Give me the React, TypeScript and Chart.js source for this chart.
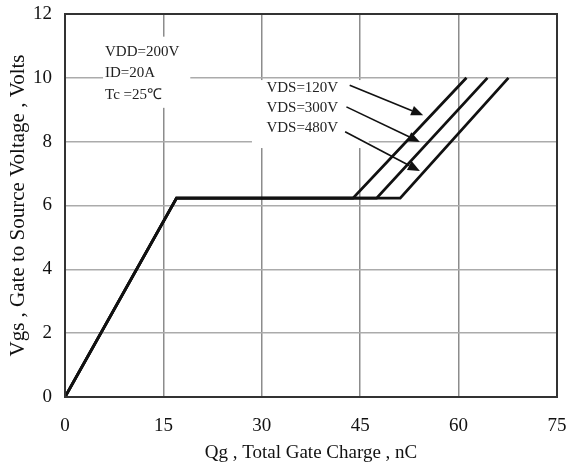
import { useEffect, useRef } from "react";
import { Chart, registerables } from "chart.js";

Chart.register(...registerables);

// ---- data ----
const qgVds120 = [0, 17.0, 43.9, 61.2];
const qgVds300 = [0, 17.0, 47.5, 64.4];
const qgVds480 = [0, 17.0, 51.1, 67.6];
const vgsCurve = [0, 6.23, 6.23, 10.0];

const xTicks = [0, 15, 30, 45, 60, 75];
const yTicks = [0, 2, 4, 6, 8, 10, 12];

const conditionLabels = ["VDD=200V", "ID=20A", "Tc =25℃"];
const conditionQg = [6.1, 6.1, 6.1];
const conditionVgs = [10.82, 10.16, 9.47];
const conditionBox = [5.8, 19.1, 9.06, 11.29];

const vdsLabels = ["VDS=120V", "VDS=300V", "VDS=480V"];
const vdsLabelQg = [30.7, 30.7, 30.7];
const vdsLabelVgs = [9.68, 9.05, 8.43];
const vdsBox = [28.5, 46.3, 7.8, 9.93];

const arrowStartQg = [43.4, 42.9, 42.7];
const arrowStartVgs = [9.77, 9.09, 8.31];
const arrowEndQg = [54.6, 54.1, 54.1];
const arrowEndVgs = [8.83, 7.99, 7.08];

const FONT = '"Liberation Serif", "Times New Roman", serif';

const toPoints = (xs: number[], ys: number[]) => xs.map((v, i) => ({ x: v, y: ys[i] }));

const annotationPlugin = {
  id: "gateAnnotations",
  beforeDatasetsDraw(chart: any) {
    const { ctx, scales } = chart;
    const x = scales.x;
    const y = scales.y;
    ctx.save();
    ctx.fillStyle = "#ffffff";
    for (const b of [conditionBox, vdsBox]) {
      const l = x.getPixelForValue(b[0]);
      const r = x.getPixelForValue(b[1]);
      const t = y.getPixelForValue(b[3]);
      const bt = y.getPixelForValue(b[2]);
      ctx.fillRect(l, t, r - l, bt - t);
    }
    ctx.font = `15px ${FONT}`;
    ctx.fillStyle = "#222";
    ctx.textAlign = "left";
    ctx.textBaseline = "middle";
    conditionLabels.forEach((s, i) =>
      ctx.fillText(s, x.getPixelForValue(conditionQg[i]), y.getPixelForValue(conditionVgs[i]))
    );
    vdsLabels.forEach((s, i) =>
      ctx.fillText(s, x.getPixelForValue(vdsLabelQg[i]), y.getPixelForValue(vdsLabelVgs[i]))
    );
    ctx.restore();
  },
  afterDatasetsDraw(chart: any) {
    const { ctx, scales, chartArea } = chart;
    const x = scales.x;
    const y = scales.y;
    ctx.save();
    ctx.strokeStyle = "#111";
    ctx.fillStyle = "#111";
    ctx.lineWidth = 1.6;
    for (let i = 0; i < arrowStartQg.length; i++) {
      const x0 = x.getPixelForValue(arrowStartQg[i]);
      const y0 = y.getPixelForValue(arrowStartVgs[i]);
      const x1 = x.getPixelForValue(arrowEndQg[i]);
      const y1 = y.getPixelForValue(arrowEndVgs[i]);
      const ang = Math.atan2(y1 - y0, x1 - x0);
      const hl = 12;
      const hw = 5;
      const bx = x1 - hl * Math.cos(ang);
      const by = y1 - hl * Math.sin(ang);
      ctx.beginPath();
      ctx.moveTo(x0, y0);
      ctx.lineTo(bx, by);
      ctx.stroke();
      ctx.beginPath();
      ctx.moveTo(x1, y1);
      ctx.lineTo(bx + hw * Math.sin(ang), by - hw * Math.cos(ang));
      ctx.lineTo(bx - hw * Math.sin(ang), by + hw * Math.cos(ang));
      ctx.closePath();
      ctx.fill();
    }
    ctx.strokeStyle = "#333";
    ctx.lineWidth = 2;
    ctx.strokeRect(
      chartArea.left,
      chartArea.top,
      chartArea.right - chartArea.left,
      chartArea.bottom - chartArea.top
    );
    ctx.restore();
  },
};

export default function App() {
  const canvasRef = useRef<HTMLCanvasElement | null>(null);

  useEffect(() => {
    if (!canvasRef.current) return;
    const lineStyle = {
      borderColor: "#111",
      borderWidth: 2.8,
      pointRadius: 0,
      tension: 0,
      fill: false,
    };
    const chart = new Chart(canvasRef.current, {
      type: "line",
      data: {
        datasets: [
          { label: "VDS=120V", data: toPoints(qgVds120, vgsCurve), ...lineStyle },
          { label: "VDS=300V", data: toPoints(qgVds300, vgsCurve), ...lineStyle },
          { label: "VDS=480V", data: toPoints(qgVds480, vgsCurve), ...lineStyle },
        ],
      },
      options: {
        animation: false,
        responsive: false,
        devicePixelRatio: 1,
        layout: { padding: { top: 14, right: 13, left: 0, bottom: 0 } },
        plugins: {
          legend: { display: false },
          tooltip: { enabled: false },
        },
        scales: {
          x: {
            type: "linear",
            min: 0,
            max: 75,
            afterBuildTicks: (s: any) => {
              s.ticks = xTicks.map((v) => ({ value: v }));
            },
            afterFit: (s: any) => {
              s.height = 73;
              s.paddingLeft = 0;
              s.paddingRight = 0;
            },
            grid: { color: "#8c8c8c", lineWidth: 1.5, drawTicks: false },
            border: { display: false },
            ticks: {
              padding: 18,
              color: "#111",
              font: { family: FONT, size: 19 },
              maxRotation: 0,
            },
            title: {
              display: true,
              text: "Qg , Total Gate Charge , nC",
              color: "#111",
              font: { family: FONT, size: 19 },
              padding: { top: 0, bottom: 6 },
            },
          },
          y: {
            type: "linear",
            min: 0,
            max: 12,
            afterBuildTicks: (s: any) => {
              s.ticks = yTicks.map((v) => ({ value: v }));
            },
            afterFit: (s: any) => {
              s.width = 65;
              s.paddingTop = 0;
              s.paddingBottom = 0;
            },
            grid: { color: "#ababab", lineWidth: 1.5, drawTicks: false },
            border: { display: false },
            ticks: {
              padding: 13,
              color: "#111",
              font: { family: FONT, size: 19 },
            },
            title: {
              display: true,
              text: "Vgs , Gate to Source Voltage , Volts",
              color: "#111",
              font: { family: FONT, size: 21 },
              padding: { top: 6, bottom: 0 },
            },
          },
        },
      },
      plugins: [annotationPlugin],
    } as any);
    return () => chart.destroy();
  }, []);

  return (
    <div style={{ position: "absolute", left: 0, top: 0, width: 570, height: 470, background: "#fff" }}>
      <canvas ref={canvasRef} width={570} height={470} style={{ width: 570, height: 470 }} />
    </div>
  );
}
